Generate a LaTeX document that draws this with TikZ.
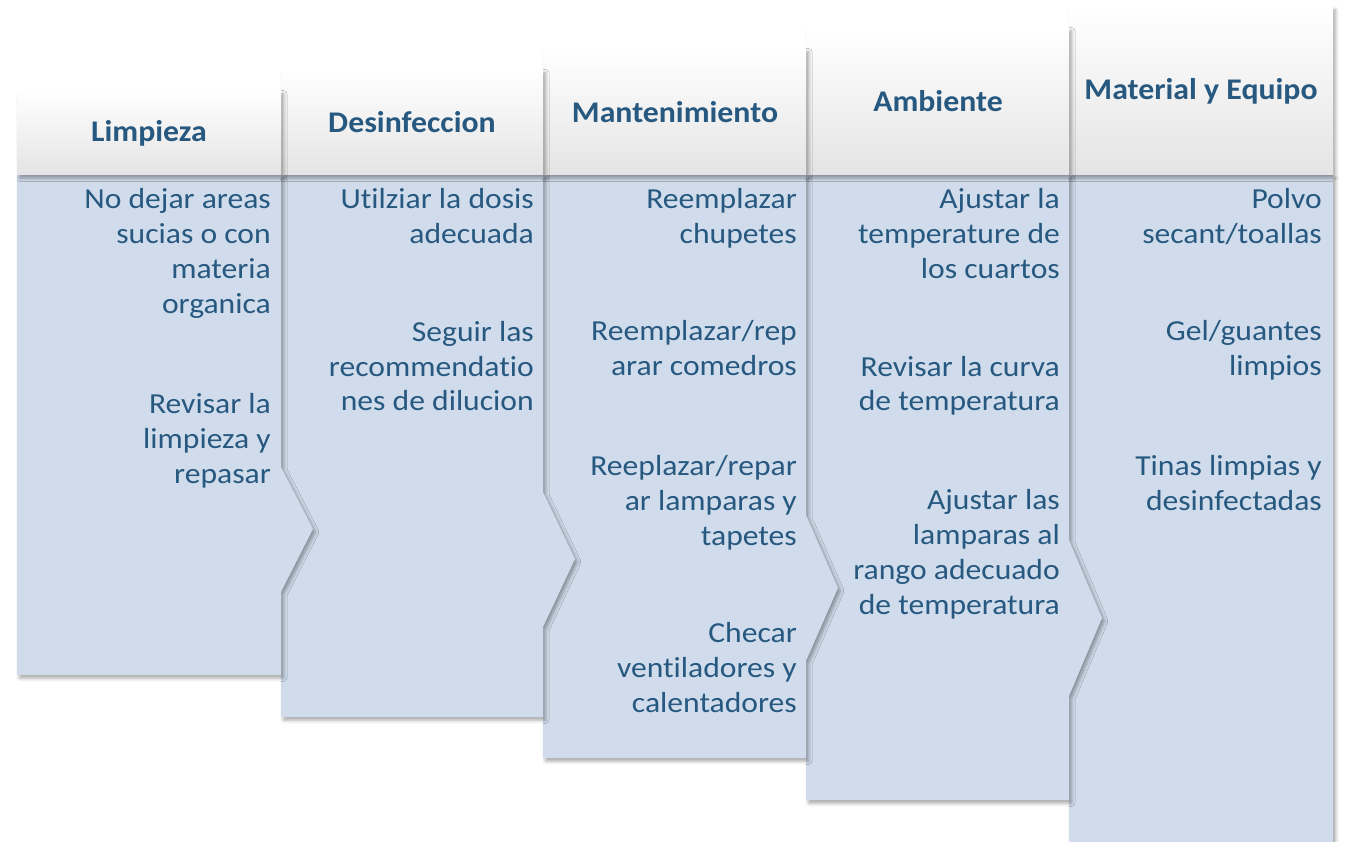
\documentclass[tikz,border=0pt]{standalone}
\usepackage{fontspec}
\setmainfont{Carlito}[FakeStretch=1.09, Ligatures=NoCommon]
\newfontfamily\headfont{Carlito}[FakeStretch=1.06, Ligatures=NoCommon]
\usepackage{xcolor}
\usetikzlibrary{shadows.blur}
\definecolor{txtblue}{RGB}{38,88,128}
\definecolor{bodyblue}{RGB}{208,220,235}
\definecolor{hdrgray}{RGB}{228,228,228}
\tikzset{
	panelshadow/.style={blur shadow={shadow xshift=2.5pt, shadow yshift=-3pt, shadow blur radius=3.5pt, shadow opacity=35}},
	bodypanel/.style={fill=bodyblue, panelshadow},
	headpanel/.style={top color=white, middle color=white, bottom color=hdrgray, panelshadow},
	headtext/.style={font=\headfont\fontsize{30}{36}\selectfont\bfseries, text=txtblue, inner sep=0pt},
	itemtext/.style={font=\fontsize{29}{35}\selectfont, text=txtblue, align=right, anchor=base east, inner sep=0pt}
}

\begin{document}
\begin{tikzpicture}[x=1pt, y=-1pt]
	\useasboundingbox (0,0) rectangle (1345,842);
	% bodies, back to front
	\path[bodypanel] (1069,175) -- (1333,175) -- (1333,842) -- (1069,842) -- cycle;
	\path[bodypanel] (806,175) -- (1069,175) -- (1069,540) -- (1102,618) -- (1069,696) -- (1069,800) -- (806,800) -- cycle;
	\path[bodypanel] (543,175) -- (806,175) -- (806,515) -- (838,588) -- (806,661) -- (806,758) -- (543,758) -- cycle;
	\path[bodypanel] (281,175) -- (543,175) -- (543,492) -- (575,559) -- (543,627) -- (543,717) -- (281,717) -- cycle;
	\path[bodypanel] (17,175) -- (281,175) -- (281,467) -- (313,529) -- (281,592) -- (281,675) -- (17,675) -- cycle;
	% headers
	\path[headpanel] (1069,7) rectangle (1333,175);
	\path[headpanel] (806,28) rectangle (1069,175);
	\path[headpanel] (543,49) rectangle (806,175);
	\path[headpanel] (281,70) rectangle (543,175);
	\path[headpanel] (17,91) rectangle (281,175);

	\node(hdA)[headtext] at (149,133) {Limpieza};
	\node(hdB)[headtext] at (412,122) {Desinfeccion};
	\node(hdC)[headtext] at (675,112) {Mantenimiento};
	\node(hdD)[headtext] at (938,101) {Ambiente};
	\node(hdE)[headtext] at (1201,91) {Material y Equipo};

	% anchors sit on the baseline of the last line
	\node(itA1)[itemtext] at (271,314) {No dejar areas\\sucias o con\\materia\\organica};
	\node(itA2)[itemtext] at (271,483) {Revisar la\\limpieza y\\repasar};

	\node(itB1)[itemtext] at (534,244) {Utilziar la dosis\\adecuada};
	\node(itB2)[itemtext] at (534,411) {Seguir las\\recommendatio\\nes de dilucion};

	\node(itC1)[itemtext] at (797,244) {Reemplazar\\chupetes};
	\node(itC2)[itemtext] at (797,376) {Reemplazar/rep\\arar comedros};
	\node(itC3)[itemtext] at (797,545) {Reeplazar/repar\\ar lamparas y\\tapetes};
	\node(itC4)[itemtext] at (797,712) {Checar\\ventiladores y\\calentadores};

	\node(itD1)[itemtext] at (1060,279) {Ajustar la\\temperature de\\los cuartos};
	\node(itD2)[itemtext] at (1060,411) {Revisar la curva\\de temperatura};
	\node(itD3)[itemtext] at (1060,614) {Ajustar las\\lamparas al\\rango adecuado\\de temperatura};

	\node(itE1)[itemtext] at (1322,244) {Polvo\\secant/toallas};
	\node(itE2)[itemtext] at (1322,376) {Gel/guantes\\limpios};
	\node(itE3)[itemtext] at (1322,510) {Tinas limpias y\\desinfectadas};
\end{tikzpicture}
\end{document}
